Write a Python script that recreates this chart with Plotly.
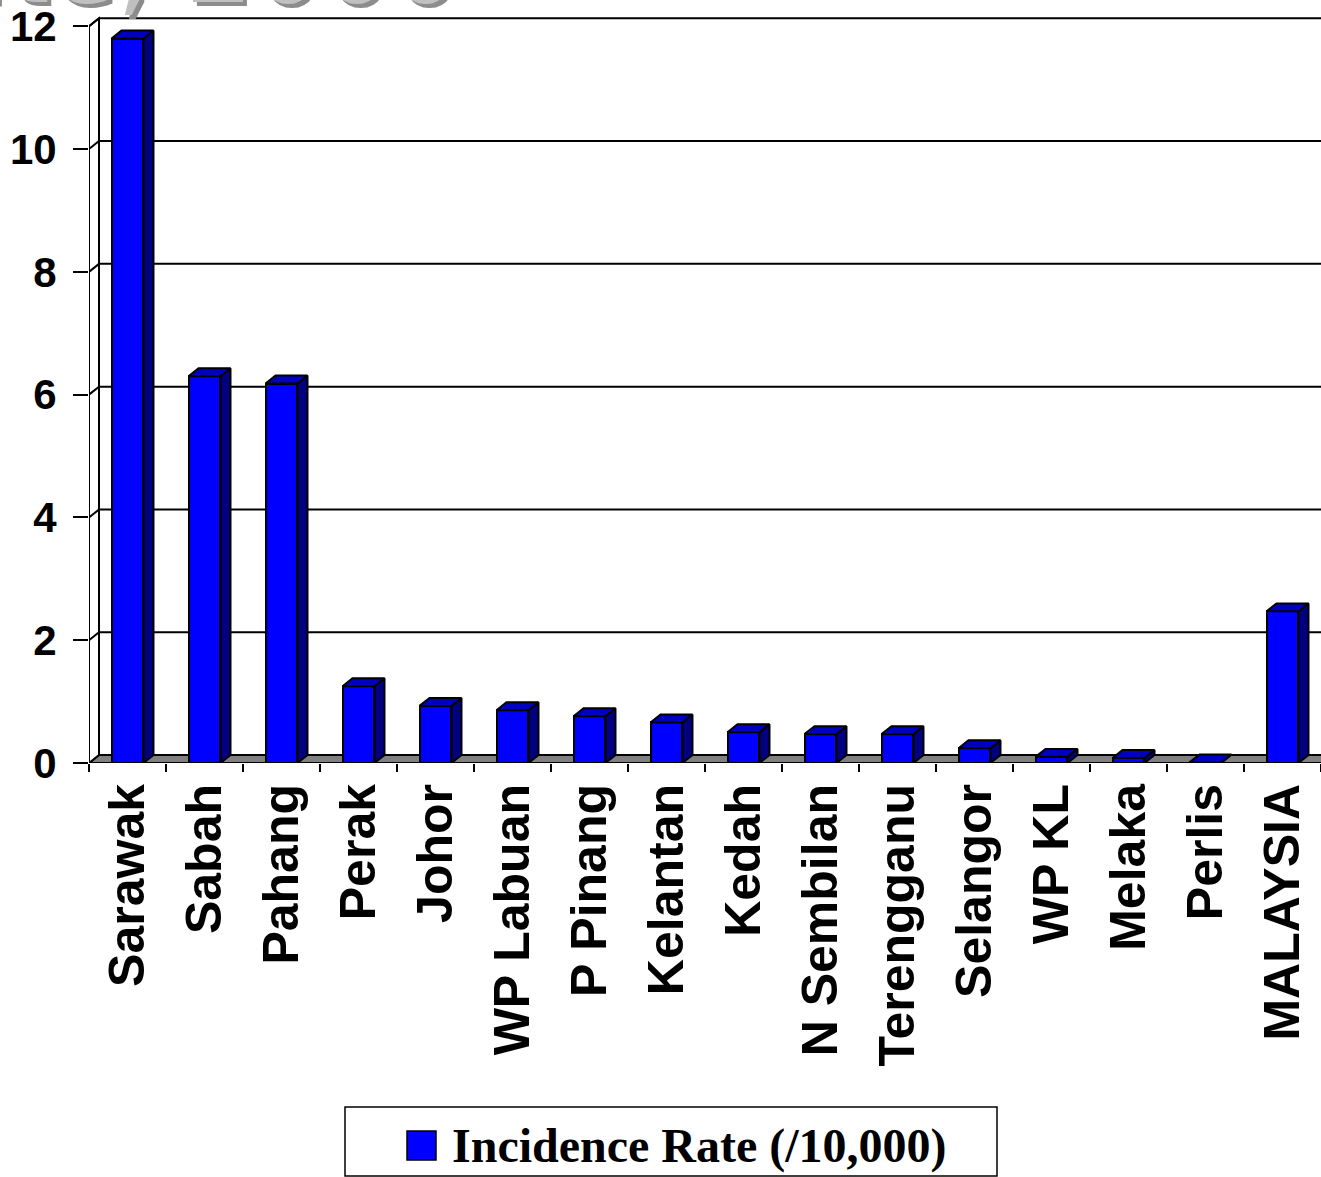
import plotly.graph_objects as go

categories = ["Sarawak", "Sabah", "Pahang", "Perak", "Johor", "WP Labuan", "P Pinang",
              "Kelantan", "Kedah", "N Sembilan", "Terengganu", "Selangor", "WP KL",
              "Melaka", "Perlis", "MALAYSIA"]
incidence = [11.8, 6.3, 6.18, 1.25, 0.93, 0.86, 0.76, 0.66, 0.5, 0.47, 0.47, 0.24, 0.1, 0.08, 0.01, 2.47]
y_ticks = [0, 2, 4, 6, 8, 10, 12]
series_name = "Incidence Rate (/10,000)"
title_text = "Malaria Incidence Rate, 2000"

# style constants
W, H = 1321, 1177
ML, MR, MT, MB = 89, 0, 14, 414
BW = 0.415          # bar width (category units)
DX = 0.13           # depth offset in x (category units)
DY = 0.13           # depth offset in y (value units)
YMAX = 12.2
n = len(categories)
xs = list(range(n))
XL, XR = -0.5, n - 0.5

fig = go.Figure()

# floor, side wall and back-wall gridlines (frame shapes, drawn below traces)
shapes = []
shapes.append(dict(type="path", xref="x", yref="y", layer="below",
                   path=f"M{XL},0 L{XL+DX},{DY} L{XR+DX+1},{DY} L{XR+1},0 Z",
                   fillcolor="#808080", line=dict(color="black", width=2)))
shapes.append(dict(type="path", xref="x", yref="y", layer="below",
                   path=f"M{XL},0 L{XL},12 L{XL+DX},{12+DY} L{XL+DX},{DY} Z",
                   fillcolor="white", line=dict(color="black", width=2)))
for v in y_ticks[1:]:
    shapes.append(dict(type="path", xref="x", yref="y", layer="below",
                       path=f"M{XL},{v} L{XL+DX},{v+DY} L{XR+DX+1},{v+DY}",
                       line=dict(color="black", width=2)))

# front faces
fig.add_trace(go.Bar(x=xs, y=incidence, width=BW, name=series_name,
                     marker=dict(color="#0000FF", line=dict(color="black", width=2)),
                     showlegend=False, hoverinfo="x+y"))

# top faces and side faces
tx, ty, sx, sy = [], [], [], []
for x, v in zip(xs, incidence):
    l, r = x - BW / 2, x + BW / 2
    tx += [l, l + DX, r + DX, r, l, None]
    ty += [v, v + DY, v + DY, v, v, None]
    sx += [r, r + DX, r + DX, r, r, None]
    sy += [0, DY, v + DY, v, 0, None]
fig.add_trace(go.Scatter(x=sx, y=sy, mode="lines", fill="toself", fillcolor="#000080",
                         line=dict(color="black", width=2), showlegend=False, hoverinfo="skip"))
fig.add_trace(go.Scatter(x=tx, y=ty, mode="lines", fill="toself", fillcolor="#0000C0",
                         line=dict(color="black", width=2), showlegend=False, hoverinfo="skip"))

# legend (manual box)
def px2paper_x(p):
    return (p - ML) / (W - ML - MR)

def px2paper_y(p):
    return (H - MB - p) / (H - MT - MB)

shapes.append(dict(type="rect", xref="paper", yref="paper",
                   x0=px2paper_x(345), x1=px2paper_x(997),
                   y0=px2paper_y(1176), y1=px2paper_y(1107),
                   fillcolor="white", line=dict(color="black", width=1.5)))
shapes.append(dict(type="rect", xref="paper", yref="paper",
                   x0=px2paper_x(407), x1=px2paper_x(436),
                   y0=px2paper_y(1160), y1=px2paper_y(1131),
                   fillcolor="#0000FF", line=dict(color="black", width=1.5)))

annotations = []
annotations.append(dict(xref="paper", yref="paper", x=px2paper_x(450), y=px2paper_y(1146),
                        xanchor="left", yanchor="middle", showarrow=False,
                        text="<b>" + series_name + "</b>",
                        font=dict(family="Liberation Serif", size=48, color="black")))
# partially visible title (shadow + text)
for dxp, col in [(4, "#8c8c8c"), (0, "#c0c0c0")]:
    annotations.append(dict(xref="paper", yref="paper",
                            x=px2paper_x(462 + dxp), y=px2paper_y(29 + dxp),
                            xanchor="right", yanchor="bottom", showarrow=False,
                            text=title_text,
                            font=dict(family="DejaVu Sans", size=108, color=col)))

fig.update_layout(
    width=W, height=H,
    margin=dict(l=ML, r=MR, t=MT, b=MB, pad=0),
    paper_bgcolor="white", plot_bgcolor="white",
    shapes=shapes, annotations=annotations,
    showlegend=False, bargap=0,
    xaxis=dict(range=[XL, XR], tickmode="array", tickvals=xs, ticktext=categories,
               tickangle=-90, ticks="", showgrid=False, zeroline=False, showline=False,
               tickfont=dict(family="Liberation Sans", size=50, color="black", weight="bold"),
               ticklabelstandoff=10,
               minor=dict(tickmode="linear", tick0=-0.5, dtick=1, ticks="outside",
                          ticklen=8, tickwidth=2, tickcolor="black", showgrid=False)),
    yaxis=dict(range=[0, YMAX], tickmode="array", tickvals=y_ticks,
               ticks="outside", ticklen=15, tickwidth=2, tickcolor="black",
               showgrid=False, zeroline=False, showline=False,
               tickfont=dict(family="Liberation Sans", size=42, color="black", weight="bold"),
               ticklabelstandoff=8),
)

fig.write_html("out.html")
